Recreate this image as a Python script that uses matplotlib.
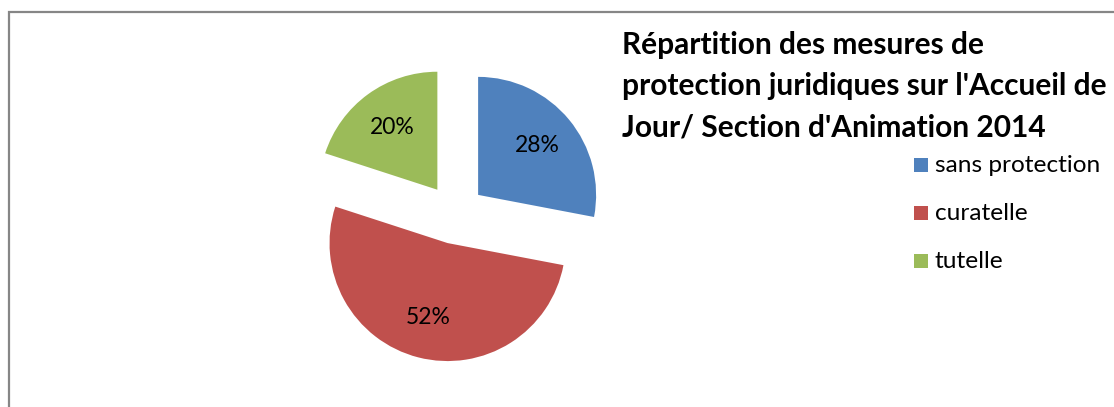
import matplotlib
matplotlib.use('Agg')
import matplotlib.pyplot as plt
from matplotlib.patches import Rectangle

labels = ['sans protection', 'curatelle', 'tutelle']
values = [28, 52, 20]
colors = ['#4F81BD', '#C0504D', '#9BBB59']
title = "Répartition des mesures de\nprotection juridiques sur l'Accueil de\nJour/ Section d'Animation 2014"

W, H = 1114, 407
plt.rcParams['font.family'] = ['Lato', 'DejaVu Sans']

fig = plt.figure(figsize=(W / 100, H / 100), dpi=100)

# chart frame (gray border, cut off at right and bottom)
fig.patches.append(Rectangle((9 / W, -0.1), 1.2, (H - 11.5) / H + 0.1, transform=fig.transFigure,
                             facecolor='none', edgecolor='#868686', linewidth=1.6))

# pie axes: centre at (455, 214) px, radius 118 px
cx, cy, r = 455, 214, 118
half = 150
ax = fig.add_axes([(cx - half) / W, (H - cy - half) / H, 2 * half / W, 2 * half / H])
ax.pie(values, colors=colors, startangle=90, counterclock=False,
       explode=[30 / r] * len(values), autopct='%1.0f%%', pctdistance=0.65,
       textprops={'fontsize': 16.5, 'color': 'black'},
       wedgeprops={'linewidth': 0})
lim = half / r
ax.set_xlim(-lim, lim)
ax.set_ylim(-lim, lim)
ax.set_aspect('equal')
ax.axis('off')

fig.text(622 / W, 1 - 31 / H, title, fontsize=21.5, fontweight='bold', va='top', ha='left',
         linespacing=1.57)

# legend
for i, (lab, col) in enumerate(zip(labels, colors)):
    yc = 165 + i * 48
    fig.patches.append(Rectangle((914 / W, 1 - (yc + 7) / H), 14 / W, 14 / H,
                                 transform=fig.transFigure, facecolor=col, edgecolor='none'))
    fig.text(935 / W, 1 - yc / H, lab, fontsize=17.6, va='center', ha='left')

fig.savefig('out.png', dpi=100)
